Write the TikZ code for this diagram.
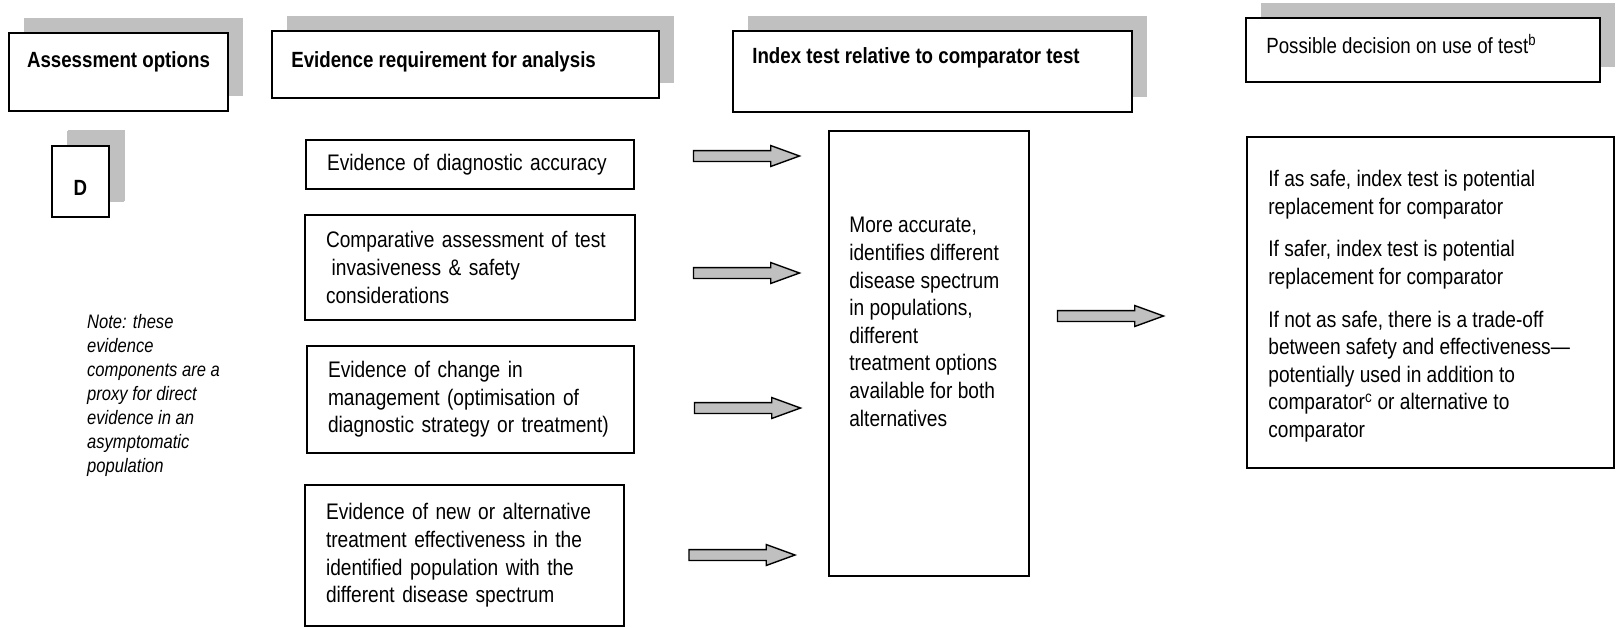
\documentclass[tikz,border=0pt]{standalone}
\usepackage{fontspec}
\setmainfont{Liberation Sans}[FakeStretch=0.85]
\definecolor{silvergrey}{RGB}{192,192,192}
\usetikzlibrary{shapes,shadows,positioning}

\begin{document}
\begin{tikzpicture}[x=1pt, y=-1pt]
                \tikzstyle{h} = [draw, line width=1.7pt, fill=white, rectangle, inner sep=0pt, drop shadow={shadow xshift=15pt, shadow yshift=15pt, fill=silvergrey, opacity=1}]
                \tikzstyle{ht} = [inner sep=0pt, font=\bfseries\fontsize{22}{27}\selectfont]
                \tikzstyle{e} = [draw, line width=1.4pt, rectangle, inner xsep=21pt, inner ysep=0pt, align=left, font=\fontsize{22.5}{27.6}\selectfont]
                \tikzstyle{b} = [draw, line width=1.7pt, rectangle, inner sep=0pt]
                \tikzstyle{bt} = [inner sep=0pt, align=left, font=\fontsize{22.5}{27.6}\selectfont]
                \tikzstyle{blk} = [single arrow, draw, line width=1.4pt, fill=silvergrey, inner xsep=0pt, inner ysep=4.75pt, minimum height=106pt, minimum width=19.5pt, single arrow head extend=5pt, single arrow tip angle=40, single arrow head indent=0pt]
                \useasboundingbox (0,0) rectangle (1616,627);

                % column headers
                \node [h, minimum width=219pt, minimum height=78pt] (assess) at (118.5,72) {};
                \node [ht, anchor=base] (assesstxt) at ([yshift=5pt]assess.center) {Assessment options};
                \node [h, minimum width=387pt, minimum height=67pt] (evreq) at (465.5,64.5) {};
                \node [ht, anchor=base west] (evreqtxt) at ([xshift=20pt, yshift=-2.5pt]evreq.west) {Evidence requirement for analysis};
                \node [h, minimum width=399pt, minimum height=81pt] (index) at (932.5,71.5) {};
                \node [ht, anchor=base west] (indextxt) at ([xshift=20pt, yshift=8.5pt]index.west) {Index test relative to comparator test};
                \node [h, minimum width=354pt, minimum height=64pt] (decide) at (1423,50) {};
                \node [ht, font=\fontsize{22}{27}\selectfont, anchor=base west] (decidetxt) at ([xshift=21pt, yshift=-3pt]decide.west) {Possible decision on use of test\textsuperscript{b}};

                % option D and note
                \node [h, minimum width=57pt, minimum height=71pt, drop shadow={shadow xshift=16pt, shadow yshift=16pt, fill=silvergrey, opacity=1}] (optD) at (80.5,181.5) {};
                \node [ht, anchor=base] (optDtxt) at ([yshift=-13.5pt]optD.center) {D};
                \node [bt, anchor=north west, font=\itshape\fontsize{19.5}{24}\selectfont] (note) at (87,314) {Note: these\\evidence\\components are a\\proxy for direct\\evidence in an\\asymptomatic\\population};

                % evidence components
                \node [e, text width=286pt, minimum height=49pt] (accuracy) at (470,164.5) {Evidence of diagnostic accuracy};
                \node [e, text width=288pt, minimum height=105pt] (safety) at (470,267.5) {Comparative assessment of test\\\hspace*{0.25em}invasiveness \& safety\\considerations};
                \node [e, text width=285pt, minimum height=107pt] (manage) at (470.5,399.5) {Evidence of change in\\management (optimisation of\\diagnostic strategy or treatment)};
                \node [e, text width=277pt, minimum height=141pt] (treat) at (464.5,555.5) {Evidence of new or alternative\\treatment effectiveness in the\\identified population with the\\different disease spectrum};

                % index test result
                \node [b, minimum width=200pt, minimum height=445pt] (result) at (929,353.5) {};
                \node [bt, anchor=north west] (resulttxt) at ([xshift=21pt, yshift=-87pt]result.north west) {More accurate,\\identifies different\\disease spectrum\\in populations,\\different\\treatment options\\available for both\\alternatives};

                % decision
                \node [b, minimum width=367pt, minimum height=331pt] (outcome) at (1430.5,302.5) {};
                \node [bt, anchor=north west] (outcometxt) at ([xshift=22pt, yshift=-34pt]outcome.north west) {If as safe, index test is potential\\replacement for comparator\\[15pt]If safer, index test is potential\\replacement for comparator\\[15pt]If not as safe, there is a trade-off\\between safety and effectiveness---\\potentially used in addition to\\comparator\textsuperscript{c} or alternative to\\comparator};

                % block arrows
                \node [blk] (arracc) at (739,156) {};
                \node [blk] (arrsafe) at (739,273) {};
                \node [blk] (arrman) at (740,408) {};
                \node [blk] (arrtreat) at (734.5,555) {};
                \node [blk] (arrout) at (1103,316) {};
            \end{tikzpicture}
\end{document}
